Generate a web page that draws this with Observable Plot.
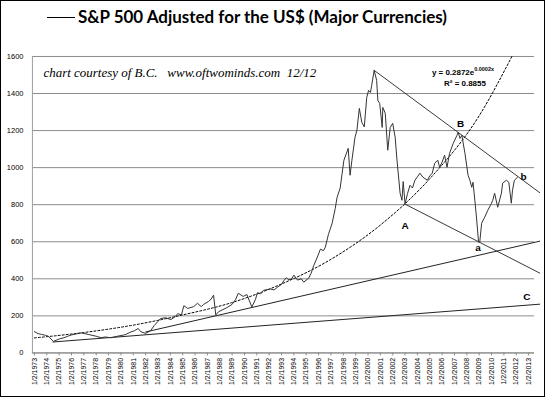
<!DOCTYPE html>
<html>
<head>
<meta charset="utf-8">
<script src="https://cdn.jsdelivr.net/npm/d3@7"></script>
<script src="https://cdn.jsdelivr.net/npm/@observablehq/plot@0.6"></script>
<style>
  html, body { margin: 0; padding: 0; background: #fff; }
  #frame { position: relative; width: 545px; height: 397px; box-sizing: border-box; border: 1px solid #000; overflow: hidden; background: #fff; }
  #title { position: absolute; left: -1px; top: -1px; }
  #chart { position: absolute; left: -1px; top: 39px; }
</style>
</head>
<body>
<div id="frame">
  <svg id="title" width="545" height="40">
    <line x1="47" x2="75" y1="17.5" y2="17.5" stroke="#000" stroke-width="1"></line>
    <text x="78" y="23" font-family="Lato, 'Open Sans', sans-serif" font-weight="bold" font-size="16.5" textLength="369" lengthAdjust="spacingAndGlyphs" fill="#000">S&amp;P 500 Adjusted for the US$ (Major Currencies)</text>
  </svg>
  <div id="chart"></div>
</div>
<script>
// S&P 500 adjusted for the US$ (decimal year, index value)
const years = [1973.0,1973.3,1973.56,1973.9,1974.13,1974.53,1975.0,1975.4,1975.7,1976.0,1976.4,1976.8,1977.35,1978.0,1978.4,1978.7,1979.2,1979.85,1980.2,1980.4,1980.8,1981.1,1981.4,1981.6,1982.0,1982.4,1982.7,1983.0,1983.2,1983.6,1984.05,1984.4,1984.6,1984.9,1985.1,1985.4,1985.9,1986.2,1986.5,1986.7,1987.1,1987.3,1987.5,1987.68,1987.9,1988.2,1988.6,1989.0,1989.3,1989.5,1989.9,1990.2,1990.6,1990.9,1991.05,1991.3,1991.55,1992.1,1992.4,1992.7,1993.0,1993.2,1993.4,1993.6,1993.8,1994.0,1994.3,1994.6,1994.8,1995.2,1995.4,1995.6,1995.9,1996.15,1996.4,1996.55,1996.8,1997.1,1997.35,1997.5,1997.75,1997.9,1998.05,1998.4,1998.55,1998.7,1998.95,1999.1,1999.3,1999.5,1999.7,1999.9,2000.05,2000.2,2000.3,2000.5,2000.7,2000.8,2000.95,2001.15,2001.2,2001.4,2001.6,2001.8,2002.0,2002.2,2002.35,2002.6,2002.75,2002.85,2003.0,2003.2,2003.4,2003.6,2003.8,2004.0,2004.2,2004.45,2004.8,2005.0,2005.2,2005.4,2005.65,2005.8,2006.0,2006.2,2006.4,2006.6,2006.9,2007.2,2007.3,2007.45,2007.6,2007.85,2008.1,2008.25,2008.4,2008.5,2008.65,2008.8,2008.95,2009.05,2009.2,2009.45,2009.7,2010.0,2010.1,2010.25,2010.5,2010.8,2010.9,2011.2,2011.4,2011.6,2011.7,2011.85,2012.1];
const values = [115,104,100,95,90,62,75,82,90,97,103,108,100,90,82,86,82,92,96,100,113,120,132,115,105,120,148,170,185,190,180,196,212,205,255,240,250,268,250,262,278,290,312,205,222,232,245,262,290,322,305,315,248,290,325,318,338,345,340,356,370,392,405,395,398,420,393,400,382,404,430,470,517,560,552,571,640,700,780,840,890,965,1040,1104,959,1040,1164,1200,1320,1244,1220,1379,1417,1406,1444,1525,1471,1363,1347,1217,1325,1293,1094,1217,1239,1164,1040,862,824,925,805,860,905,890,932,950,970,948,932,955,970,1024,1040,1002,1030,1067,1002,1077,1131,1174,1191,1158,1174,1077,959,932,894,921,824,717,598,600,700,733,770,808,824,862,786,862,916,932,921,808,878,932,948];

// Exponential trendline (dotted)
const trendYears = [1973, 1977, 1981, 1985, 1989, 1993, 1997, 2001, 2005, 2009, 2011.65];
const trendValues = [81, 110, 150, 205, 272, 372, 505, 690, 940, 1280, 1600];

// Hand-drawn straight trend lines: [startYear, startValue, endYear, endValue]
const lineC = [1974.5, 59, 2013.9, 263];
const lineSupport = [1982.0, 113, 2013.9, 603];
const linePeak = [2000.5, 1525, 2013.9, 865];
const lineA = [2003.0, 803, 2013.9, 431];

// Point labels
const labelText = ["A", "B", "a", "b", "C"];
const labelYears = [2003.0, 2007.5, 2008.9, 2012.6, 2012.85];
const labelValues = [684, 1239, 566, 948, 302];

// Tick labels
const xTickYears = d3.range(1973, 2014);
const yTicks = d3.range(0, 1601, 200);

const series = years.map((x, i) => ({x, y: values[i]}));
const trend = trendYears.map((x, i) => ({x, y: trendValues[i]}));
const seg = (l) => [{x: l[0], y: l[1]}, {x: l[2], y: l[3]}];
const labels = labelText.map((t, i) => ({t, x: labelYears[i], y: labelValues[i]}));

const chart = Plot.plot({
  width: 545,
  height: 357,
  marginLeft: 32,
  marginRight: 10,
  marginTop: 16,
  marginBottom: 44,
  x: {domain: [1972.84, 2013.48]},
  y: {domain: [0, 1600]},
  style: {fontFamily: "'Liberation Sans', Arial, sans-serif", fontSize: "7px", background: "transparent", color: "#000", overflow: "visible"},
  marks: [
    Plot.gridY(yTicks, {stroke: "#8c8c8c", strokeOpacity: 1}),
    Plot.axisY({ticks: yTicks, tickSize: 0, tickPadding: 9, label: null, fontSize: 7.5, tickFormat: d => String(d)}),
    Plot.axisX({ticks: xTickYears, tickFormat: d => `1/2/${d}`, tickRotate: -90, tickSize: 3, tickPadding: 2, label: null, stroke: "#8c8c8c", fontSize: 7}),
    Plot.ruleY([0], {stroke: "#8c8c8c"}),
    Plot.ruleX([1972.84], {stroke: "#a0a0a0"}),
    Plot.line(seg(lineC), {x: "x", y: "y", stroke: "#222", strokeWidth: 1}),
    Plot.line(seg(lineSupport), {x: "x", y: "y", stroke: "#222", strokeWidth: 1}),
    Plot.line(seg(linePeak), {x: "x", y: "y", stroke: "#222", strokeWidth: 0.9}),
    Plot.line(seg(lineA), {x: "x", y: "y", stroke: "#222", strokeWidth: 0.9}),
    Plot.line(trend, {x: "x", y: "y", curve: "monotone-x", stroke: "#000", strokeWidth: 1, strokeDasharray: "2,2"}),
    Plot.line(series, {x: "x", y: "y", stroke: "#333", strokeWidth: 1}),
    Plot.text(labels, {x: "x", y: "y", text: "t", fontSize: 10, fontWeight: "bold", fill: "#000"}),
    Plot.text(["chart courtesy of B.C.\u00a0\u00a0\u00a0www.oftwominds.com\u00a0\u00a012/12"], {frameAnchor: "top-left", dx: 11, dy: 11, fontFamily: "'Liberation Serif', 'DejaVu Serif', serif", fontStyle: "italic", fontSize: 13, fill: "#000", textAnchor: "start"}),
    Plot.text(["y = 0.2872e"], {x: [2008.6], y: [1515], fontSize: 8, fontWeight: "bold", textAnchor: "end", fill: "#000"}),
    Plot.text(["0.0002x"], {x: [2008.6], y: [1515], dy: -3, fontSize: 5.5, fontWeight: "bold", textAnchor: "start", fill: "#000"}),
    Plot.text(["R\u00b2 = 0.8855"], {x: [2007.85], y: [1455], fontSize: 8, fontWeight: "bold", fill: "#000"})
  ]
});
document.getElementById("chart").appendChild(chart);
</script>
</body>
</html>
